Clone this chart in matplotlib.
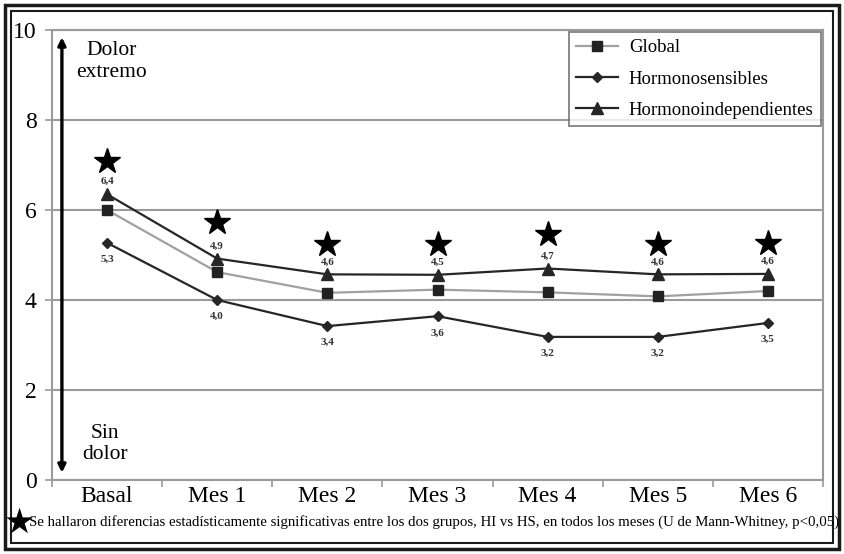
import matplotlib

matplotlib.use("Agg")
import matplotlib.pyplot as plt
from matplotlib.patches import Rectangle
from matplotlib.transforms import offset_copy

plt.rcParams["font.family"] = ["Liberation Serif", "DejaVu Serif"]

months = ["Basal", "Mes 1", "Mes 2", "Mes 3", "Mes 4", "Mes 5", "Mes 6"]
global_vals = [6.0, 4.62, 4.16, 4.23, 4.17, 4.08, 4.2]
hs_vals = [5.27, 4.0, 3.42, 3.64, 3.18, 3.18, 3.49]
hs_labels = ["5,3", "4,0", "3,4", "3,6", "3,2", "3,2", "3,5"]
hi_vals = [6.35, 4.92, 4.57, 4.56, 4.7, 4.57, 4.58]
hi_labels = ["6,4", "4,9", "4,6", "4,5", "4,7", "4,6", "4,6"]
star_offsets = [24, 26, 22, 22, 25, 22, 22]  # points above the HI marker

fig = plt.figure(figsize=(8.44, 5.54), dpi=100)
ax = fig.add_axes([52 / 844, 74 / 554, 771 / 844, 450 / 554])

x = [i + 0.5 for i in range(len(months))]
grid_c = "#9a9a9a"

ax.plot(x, global_vals, color="#a0a0a0", lw=1.6, marker="s", ms=7,
        mfc="#222222", mec="#222222", label="Global", zorder=3)
ax.plot(x, hs_vals, color="#262626", lw=1.6, marker="D", ms=5,
        mfc="#262626", mec="#262626", label="Hormonosensibles", zorder=3)
ax.plot(x, hi_vals, color="#262626", lw=1.6, marker="^", ms=8,
        mfc="#262626", mec="#262626", label="Hormonoindependientes", zorder=3)

for xi, v, lab in zip(x, hs_vals, hs_labels):
    ax.annotate(lab, (xi, v), xytext=(0, -12), textcoords="offset points",
                ha="center", va="center", fontsize=8, fontweight="bold",
                color="#333333")
for xi, v, lab, so in zip(x, hi_vals, hi_labels, star_offsets):
    ax.annotate(lab, (xi, v), xytext=(0, 9), textcoords="offset points",
                ha="center", va="center", fontsize=8, fontweight="bold",
                color="#333333")
    star_tr = offset_copy(ax.transData, fig=fig, x=0, y=so, units="points")
    ax.plot([xi], [v], marker="*", ms=19, color="black", mec="black",
            transform=star_tr, clip_on=False, zorder=4)

ax.set_xlim(0, 7)
ax.set_ylim(0, 10)
ax.set_yticks([0, 2, 4, 6, 8, 10])
ax.set_xticks(range(8))
ax.set_xticklabels([])
ax.set_xticks(x, minor=True)
ax.set_xticklabels(months, minor=True, fontsize=17)
ax.tick_params(axis="x", which="minor", length=0, pad=4)
ax.tick_params(axis="x", which="major", length=5, color=grid_c, width=1.2)
ax.tick_params(axis="y", length=5, color=grid_c, width=1.2, labelsize=17, pad=6)
ax.yaxis.grid(True, color=grid_c, lw=1.5)
ax.set_axisbelow(True)
for sp in ax.spines.values():
    sp.set_color(grid_c)
    sp.set_linewidth(1.5)

# pain scale arrow
ax.annotate("", xy=(0.09, 9.9), xytext=(0.09, 0.1),
            arrowprops=dict(arrowstyle="<|-|>", lw=2.4, color="black",
                            mutation_scale=11))
ax.text(0.54, 9.3, "Dolor\nextremo", ha="center", va="center", fontsize=15.5,
        linespacing=1.15)
ax.text(0.48, 0.8, "Sin\ndolor", ha="center", va="center", fontsize=15.5,
        linespacing=1.15)

leg = ax.legend(loc="upper right", fontsize=13.5, frameon=True, fancybox=False,
                edgecolor="#555555", borderaxespad=0.1, handlelength=2.2,
                labelspacing=0.75, borderpad=0.4, handletextpad=0.6)
leg.get_frame().set_linewidth(1.2)

# footnote
fig.text(19 / 844, 1 - 523 / 554, "\u2605", ha="center", va="center",
         fontsize=25, family="DejaVu Sans")
fig.text(29 / 844, 1 - 522 / 554,
         "Se hallaron diferencias estadísticamente significativas entre los dos grupos, "
         "HI vs HS, en todos los meses (U de Mann-Whitney, p<0,05)",
         ha="left", va="center", fontsize=10.7)

# double frame
fig.patches.append(Rectangle((5 / 844, 5 / 554), 834 / 844, 544 / 554,
                             transform=fig.transFigure, fill=False,
                             lw=2.5, ec="#1a1a1a"))
fig.patches.append(Rectangle((11 / 844, 11 / 554), 822 / 844, 532 / 554,
                             transform=fig.transFigure, fill=False,
                             lw=1.5, ec="#1a1a1a"))

fig.savefig("out.png", dpi=100)
